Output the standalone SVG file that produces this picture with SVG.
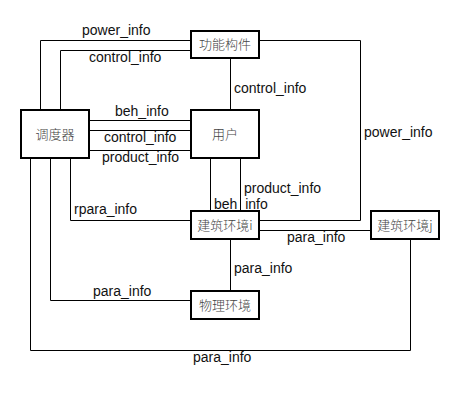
<svg xmlns="http://www.w3.org/2000/svg" width="470" height="400" viewBox="0 0 470 400">
<style>
.node rect{fill:#fff;stroke:#000;stroke-width:2}
.node text{font-family:"Noto Sans CJK SC","Liberation Sans",sans-serif;font-size:13px;font-weight:300;fill:#444;text-anchor:middle}
#connectors path{fill:none;stroke:#000;stroke-width:1}
.lbl{font-family:"Liberation Sans",Arial,sans-serif;font-size:14px;fill:#111}
</style>
<rect width="470" height="400" fill="#fff"/>
<g id="connectors">
<path d="M40.5 110V40.5H191"/>
<path d="M60.5 110V50.5H191"/>
<path d="M230.5 58V110"/>
<path d="M259 40.5H360.5V220.5H259"/>
<path d="M89 120.5H191"/>
<path d="M89 130.5H191"/>
<path d="M89 150.5H191"/>
<path d="M210.5 158V211"/>
<path d="M240.5 158V211"/>
<path d="M70.5 158V220.5H191"/>
<path d="M259 230.5H371"/>
<path d="M230.5 239V291"/>
<path d="M50.5 158V300.5H191"/>
<path d="M410.5 239V350.5H30.5V158"/>
<text class="lbl" x="82" y="35">power_info</text>
<text class="lbl" x="89" y="62">control_info</text>
<text class="lbl" x="234" y="93">control_info</text>
<text class="lbl" x="364" y="137">power_info</text>
<text class="lbl" x="115" y="116">beh_info</text>
<text class="lbl" x="104" y="142">control_info</text>
<text class="lbl" x="102" y="162">product_info</text>
<text class="lbl" x="244" y="193">product_info</text>
<text class="lbl" x="214" y="209">beh_info</text>
<text class="lbl" x="74" y="214">rpara_info</text>
<text class="lbl" x="287" y="242">para_info</text>
<text class="lbl" x="234" y="273">para_info</text>
<text class="lbl" x="93" y="296">para_info</text>
<text class="lbl" x="193" y="362">para_info</text>
</g>
<g id="node-gongneng" class="node"><rect x="191" y="31" width="68" height="27"/><text x="225" y="49">功能构件</text></g>
<g id="node-diaoduqi" class="node"><rect x="21" y="110" width="68" height="48"/><text x="55" y="139">调度器</text></g>
<g id="node-yonghu" class="node"><rect x="191" y="110" width="68" height="48"/><text x="225" y="139">用户</text></g>
<g id="node-jianzhu-i" class="node"><rect x="191" y="211" width="68" height="28"/><text x="225" y="230">建筑环境i</text></g>
<g id="node-jianzhu-j" class="node"><rect x="371" y="211" width="68" height="28"/><text x="405" y="230">建筑环境j</text></g>
<g id="node-wuli" class="node"><rect x="191" y="291" width="68" height="28"/><text x="225" y="310">物理环境</text></g>
</svg>
